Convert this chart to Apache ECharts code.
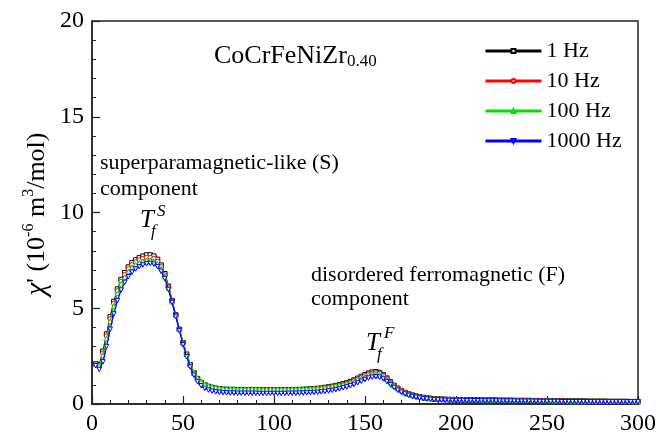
<!DOCTYPE html>
<html>
<head>
<meta charset="utf-8">
<script src="https://cdn.jsdelivr.net/npm/echarts@6/dist/echarts.min.js"></script>
<style>html,body{margin:0;padding:0;background:#fff}#c{width:667px;height:440px}</style>
</head>
<body>
<div id="c"></div>
<script>
const temperature = [
  2,4,6,8,10,12,14,16,18,20,
  22,24,26,28,30,32,34,36,38,40,
  42,44,46,48,50,52,54,56,58,60,
  62,64,66,68,70,72,74,76,78,80,
  82,84,86,88,90,92,94,96,98,100,
  102,104,106,108,110,112,114,116,118,120,
  122,124,126,128,130,132,134,136,138,140,
  142,144,146,148,150,152,154,156,158,160,
  162,164,166,168,170,172,174,176,178,180,
  182,184,186,188,190,192,194,196,198,200,
  202,204,206,208,210,212,214,216,218,220,
  222,224,226,228,230,232,234,236,238,240,
  242,244,246,248,250,252,254,256,258,260,
  262,264,266,268,270,272,274,276,278,280,
  282,284,286,288,290,292,294,296,298,300
];
const chi1Hz = [
  2.10,2.05,2.75,3.65,4.55,5.35,6.00,6.50,6.85,7.15,
  7.38,7.52,7.63,7.72,7.78,7.78,7.72,7.55,7.25,6.80,
  6.15,5.40,4.65,3.90,3.20,2.60,2.05,1.62,1.32,1.12,
  0.99,0.91,0.86,0.82,0.79,0.77,0.76,0.75,0.75,0.74,
  0.74,0.74,0.74,0.73,0.73,0.73,0.73,0.73,0.73,0.73,
  0.73,0.73,0.74,0.74,0.74,0.75,0.75,0.76,0.77,0.78,
  0.79,0.81,0.83,0.86,0.89,0.92,0.96,1.00,1.05,1.10,
  1.17,1.25,1.34,1.44,1.53,1.61,1.66,1.68,1.64,1.52,
  1.35,1.15,0.97,0.82,0.70,0.60,0.52,0.46,0.41,0.37,
  0.34,0.31,0.29,0.27,0.26,0.25,0.24,0.23,0.23,0.22,
  0.22,0.22,0.21,0.21,0.21,0.21,0.20,0.20,0.20,0.20,
  0.20,0.19,0.19,0.19,0.19,0.18,0.18,0.18,0.18,0.18,
  0.17,0.17,0.17,0.17,0.17,0.16,0.16,0.16,0.16,0.16,
  0.15,0.15,0.15,0.15,0.15,0.14,0.14,0.14,0.14,0.14,
  0.14,0.13,0.13,0.13,0.13,0.13,0.13,0.12,0.12,0.12
];
const chi10Hz = [
  2.10,2.02,2.65,3.55,4.45,5.25,5.90,6.40,6.75,7.05,
  7.27,7.41,7.52,7.60,7.65,7.65,7.60,7.44,7.16,6.73,
  6.10,5.37,4.63,3.89,3.19,2.59,2.04,1.61,1.31,1.11,
  0.98,0.90,0.85,0.81,0.78,0.76,0.75,0.74,0.74,0.73,
  0.73,0.73,0.73,0.73,0.73,0.72,0.72,0.72,0.72,0.72,
  0.72,0.72,0.73,0.73,0.73,0.74,0.74,0.75,0.76,0.77,
  0.78,0.80,0.82,0.84,0.87,0.90,0.94,0.98,1.02,1.07,
  1.13,1.21,1.29,1.38,1.47,1.55,1.60,1.62,1.59,1.48,
  1.32,1.13,0.96,0.81,0.69,0.59,0.51,0.45,0.40,0.36,
  0.33,0.31,0.29,0.27,0.26,0.25,0.24,0.23,0.23,0.22,
  0.22,0.22,0.21,0.21,0.21,0.21,0.20,0.20,0.20,0.20,
  0.20,0.19,0.19,0.19,0.19,0.18,0.18,0.18,0.18,0.18,
  0.17,0.17,0.17,0.17,0.17,0.16,0.16,0.16,0.16,0.16,
  0.15,0.15,0.15,0.15,0.15,0.14,0.14,0.14,0.14,0.14,
  0.14,0.13,0.13,0.13,0.13,0.13,0.13,0.12,0.12,0.12
];
const chi100Hz = [
  2.08,2.00,2.55,3.42,4.32,5.12,5.78,6.28,6.63,6.92,
  7.14,7.28,7.38,7.45,7.50,7.50,7.46,7.32,7.06,6.66,
  6.05,5.34,4.62,3.90,3.21,2.62,2.08,1.66,1.36,1.16,
  1.03,0.95,0.90,0.86,0.83,0.81,0.80,0.79,0.79,0.78,
  0.78,0.78,0.78,0.78,0.78,0.77,0.77,0.77,0.77,0.77,
  0.77,0.77,0.77,0.77,0.78,0.78,0.78,0.79,0.79,0.80,
  0.81,0.82,0.84,0.86,0.88,0.91,0.94,0.97,1.01,1.06,
  1.11,1.18,1.26,1.34,1.42,1.50,1.55,1.57,1.54,1.44,
  1.29,1.11,0.95,0.81,0.70,0.60,0.52,0.46,0.41,0.37,
  0.34,0.32,0.30,0.28,0.27,0.26,0.25,0.24,0.24,0.23,
  0.23,0.23,0.22,0.22,0.22,0.22,0.21,0.21,0.21,0.21,
  0.21,0.20,0.20,0.20,0.20,0.19,0.19,0.19,0.19,0.19,
  0.18,0.18,0.18,0.18,0.18,0.17,0.17,0.17,0.17,0.17,
  0.16,0.16,0.16,0.16,0.16,0.15,0.15,0.15,0.15,0.15,
  0.15,0.14,0.14,0.14,0.14,0.14,0.14,0.13,0.13,0.13
];
const chi1000Hz = [
  2.00,1.80,2.20,3.00,3.90,4.70,5.40,5.95,6.35,6.65,
  6.88,7.05,7.17,7.26,7.32,7.34,7.30,7.17,6.93,6.55,
  5.98,5.30,4.57,3.83,3.10,2.47,1.93,1.50,1.17,0.95,
  0.82,0.73,0.67,0.63,0.61,0.59,0.58,0.57,0.57,0.56,
  0.56,0.56,0.56,0.56,0.56,0.55,0.55,0.55,0.55,0.55,
  0.55,0.55,0.55,0.56,0.56,0.56,0.57,0.57,0.58,0.59,
  0.60,0.61,0.63,0.65,0.68,0.71,0.75,0.79,0.84,0.89,
  0.95,1.02,1.10,1.19,1.28,1.35,1.40,1.42,1.40,1.31,
  1.17,1.01,0.86,0.72,0.61,0.52,0.45,0.39,0.35,0.31,
  0.28,0.26,0.24,0.22,0.21,0.20,0.19,0.19,0.18,0.18,
  0.18,0.18,0.17,0.17,0.17,0.17,0.16,0.16,0.16,0.16,
  0.16,0.15,0.15,0.15,0.15,0.15,0.14,0.14,0.14,0.14,
  0.14,0.14,0.13,0.13,0.13,0.13,0.13,0.13,0.12,0.12,
  0.12,0.12,0.12,0.12,0.12,0.12,0.11,0.11,0.11,0.11,
  0.11,0.11,0.11,0.11,0.11,0.11,0.11,0.11,0.11,0.11
];
const seriesNames = ['1 Hz','10 Hz','100 Hz','1000 Hz'];
const seriesColors = ['#000000','#ff0000','#00e000','#0000ff'];
const seriesSymbols = ['rect','circle','triangle','triangle'];
const seriesRotate = [0,0,0,180];
const seriesValues = [chi1Hz, chi10Hz, chi100Hz, chi1000Hz];
const xTicks = [0,50,100,150,200,250,300];
const yTicks = [0,5,10,15,20];

const FONT = "'Liberation Serif','Times New Roman',serif";
const chart = echarts.init(document.getElementById('c'), null, {renderer:'canvas'});

const series = seriesNames.map((name, k) => ({
  name: name,
  type: 'line',
  data: temperature.map((t, i) => [t, seriesValues[k][i]]),
  symbol: seriesSymbols[k],
  symbolRotate: seriesRotate[k],
  symbolSize: 4.5,
  showAllSymbol: true,
  lineStyle: {color: seriesColors[k], width: 1.2},
  itemStyle: {color: '#ffffff', borderColor: seriesColors[k], borderWidth: 1},
  emphasis: {disabled: true},
  animation: false,
  z: 2 + k
}));

chart.setOption({
  animation: false,
  backgroundColor: '#ffffff',
  grid: {left: 92, right: 29, top: 21, bottom: 36, show: true, borderColor: '#222', borderWidth: 1.5, backgroundColor: 'transparent'},
  legend: {
    orient: 'vertical', left: 479, top: 35,
    itemWidth: 56, itemHeight: 5, itemGap: 8,
    data: seriesNames,
    textStyle: {fontFamily: FONT, fontSize: 22, color: '#000', lineHeight: 22, padding: [0,0,0,0]},
    lineStyle: {width: 3}
  },
  xAxis: {
    type: 'value', min: 0, max: 300, interval: 50,
    axisLine: {show: true, lineStyle: {color: '#222', width: 1.5}},
    axisTick: {show: true, inside: true, length: 8, lineStyle: {color: '#222', width: 1.2}},
    minorTick: {show: true, splitNumber: 5, length: 4, lineStyle: {color: '#222', width: 1}},
    splitLine: {show: false},
    axisLabel: {fontFamily: FONT, fontSize: 24, color: '#000', margin: 8,
      formatter: v => xTicks.includes(v) ? String(v) : ''}
  },
  yAxis: {
    type: 'value', min: 0, max: 20, interval: 5,
    axisLine: {show: true, lineStyle: {color: '#222', width: 1.5}},
    axisTick: {show: true, inside: true, length: 8, lineStyle: {color: '#222', width: 1.2}},
    minorTick: {show: true, splitNumber: 5, length: 4, lineStyle: {color: '#222', width: 1}},
    splitLine: {show: false},
    axisLabel: {fontFamily: FONT, fontSize: 24, color: '#000', margin: 8,
      formatter: v => yTicks.includes(v) ? String(v) : ''}
  },
  graphic: [
    {type: 'text', x: 37, y: 214, rotation: Math.PI / 2, style: {
      text: "{i|χ}{n|' (10}{s|-6}{n| m}{s|3}{n|/mol)}", fontFamily: FONT,
      align: 'center', verticalAlign: 'middle',
      rich: {
        i: {fontFamily: FONT, fontSize: 29, fontStyle: 'italic', fill: '#000', lineHeight: 32},
        n: {fontFamily: FONT, fontSize: 26, fill: '#000', lineHeight: 32},
        s: {fontFamily: FONT, fontSize: 16, fill: '#000', verticalAlign: 'top', lineHeight: 32}
      }
    }},
    {type: 'text', left: 214, top: 43, style: {
      text: '{n|CoCrFeNiZr}{s|0.40}', fontFamily: FONT,
      rich: {n: {fontFamily: FONT, fontSize: 26, fill: '#000', lineHeight: 29},
             s: {fontFamily: FONT, fontSize: 17, fill: '#000', verticalAlign: 'bottom', lineHeight: 29}}
    }},
    {type: 'text', left: 100, top: 152, style: {text: 'superparamagnetic-like (S)', fontFamily: FONT, fontSize: 22, fill: '#000'}},
    {type: 'text', left: 100, top: 178, style: {text: 'component', fontFamily: FONT, fontSize: 22, fill: '#000'}},
    {type: 'text', left: 140, top: 208, style: {text: 'T', fontFamily: FONT, fontSize: 25, fontStyle: 'italic', fill: '#000'}},
    {type: 'text', left: 157, top: 203, style: {text: 'S', fontFamily: FONT, fontSize: 17, fontStyle: 'italic', fill: '#000'}},
    {type: 'text', left: 151, top: 223, style: {text: 'f', fontFamily: FONT, fontSize: 17, fontStyle: 'italic', fill: '#000'}},
    {type: 'text', left: 311, top: 264, style: {text: 'disordered ferromagnetic (F)', fontFamily: FONT, fontSize: 22, fill: '#000'}},
    {type: 'text', left: 311, top: 288, style: {text: 'component', fontFamily: FONT, fontSize: 22, fill: '#000'}},
    {type: 'text', left: 366, top: 331, style: {text: 'T', fontFamily: FONT, fontSize: 25, fontStyle: 'italic', fill: '#000'}},
    {type: 'text', left: 384, top: 325, style: {text: 'F', fontFamily: FONT, fontSize: 17, fontStyle: 'italic', fill: '#000'}},
    {type: 'text', left: 377, top: 346, style: {text: 'f', fontFamily: FONT, fontSize: 17, fontStyle: 'italic', fill: '#000'}}
  ],
  series: series
});
</script>
</body>
</html>
